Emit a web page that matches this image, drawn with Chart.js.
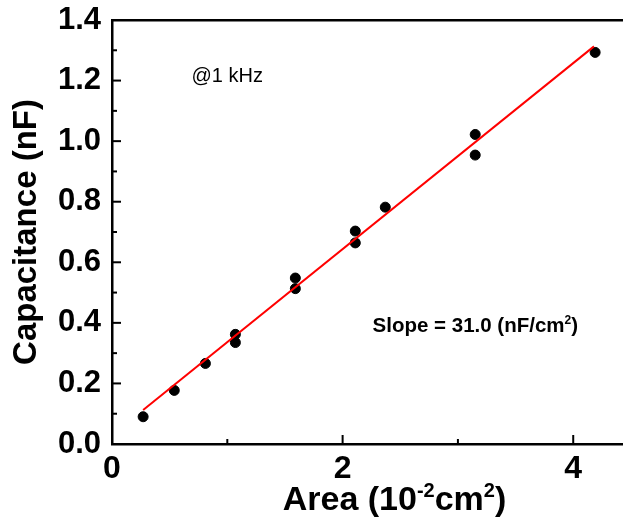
<!DOCTYPE html>
<html>
<head>
<meta charset="utf-8">
<script src="https://cdn.jsdelivr.net/npm/chart.js@4/dist/chart.umd.min.js"></script>
<style>
  html, body { margin: 0; padding: 0; background: #fff; overflow: hidden; }
  #wrap { width: 700px; height: 527px; }
</style>
</head>
<body>
<div id="wrap"><canvas id="cap-chart" width="700" height="527"></canvas></div>
<script>
// measured points: area (10^-2 cm^2) vs capacitance (nF) at 1 kHz
const areaVals = [0.27, 0.54, 0.81, 1.07, 1.07, 1.59, 1.59, 2.11, 2.11, 2.37, 3.15, 3.15, 4.19];
const capVals  = [0.090, 0.177, 0.266, 0.362, 0.335, 0.548, 0.513, 0.703, 0.664, 0.782, 1.022, 0.954, 1.293];

// linear fit, end points
const fitX = [0.27, 4.18];
const fitY = [0.112, 1.313];

// axis ticks
const xMajor = [0, 2, 4];
const xMinor = [1, 3];
const yMajor = [0, 0.2, 0.4, 0.6, 0.8, 1.0, 1.2, 1.4];
const yMinor = [0.1, 0.3, 0.5, 0.7, 0.9, 1.1, 1.3];

const FONT = '"Liberation Sans", Arial, Helvetica, sans-serif';

// draws text pieces in a row; pieces marked sup are smaller and raised
function drawRich(ctx, parts, x, y, size, align) {
  const big = 'bold ' + size + 'px ' + FONT;
  const small = 'bold ' + Math.round(size * 0.6) + 'px ' + FONT;
  let w = 0;
  parts.forEach(p => { ctx.font = p.sup ? small : big; w += ctx.measureText(p.t).width; });
  let cx = align === 'center' ? x - w / 2 : x;
  parts.forEach(p => {
    ctx.font = p.sup ? small : big;
    ctx.fillText(p.t, cx, p.sup ? y - size * 0.38 : y);
    cx += ctx.measureText(p.t).width;
  });
}

// ticks pointing into the plot, x title and the two text notes
const innerTicks = {
  id: 'innerTicks',
  afterDraw(chart) {
    const { ctx, chartArea: a, scales: { x, y } } = chart;
    ctx.save();
    ctx.strokeStyle = '#000';
    ctx.lineWidth = 2;
    const tick = (x1, y1, x2, y2) => { ctx.beginPath(); ctx.moveTo(x1, y1); ctx.lineTo(x2, y2); ctx.stroke(); };
    xMajor.forEach(v => { const p = x.getPixelForValue(v); tick(p, a.bottom, p, a.bottom - 9); });
    xMinor.forEach(v => { const p = x.getPixelForValue(v); tick(p, a.bottom, p, a.bottom - 5); });
    yMajor.forEach(v => { const p = y.getPixelForValue(v); tick(a.left, p, a.left + 9, p); });
    yMinor.forEach(v => { const p = y.getPixelForValue(v); tick(a.left, p, a.left + 5, p); });

    ctx.fillStyle = '#000';
    ctx.textAlign = 'left';
    ctx.textBaseline = 'middle';
    ctx.font = '20px ' + FONT;
    ctx.fillText('@1 kHz', x.getPixelForValue(0.69), y.getPixelForValue(1.215));

    ctx.textBaseline = 'alphabetic';
    drawRich(ctx, [{ t: 'Slope = 31.0 (nF/cm' }, { t: '2', sup: true }, { t: ')' }],
      x.getPixelForValue(2.26), y.getPixelForValue(0.396) + 7.5, 20.5, 'left');

    // x axis title
    drawRich(ctx, [{ t: 'Area (10' }, { t: '-2', sup: true }, { t: 'cm' }, { t: '2', sup: true }, { t: ')' }],
      (a.left + a.right) / 2, 510, 34, 'center');
    ctx.restore();
  }
};

new Chart(document.getElementById('cap-chart'), {
  data: {
    datasets: [
      {
        type: 'line',
        label: 'fit',
        data: fitX.map((v, i) => ({ x: v, y: fitY[i] })),
        borderColor: '#ff0000',
        borderWidth: 2,
        pointRadius: 0,
        fill: false
      },
      {
        type: 'scatter',
        label: 'data',
        data: areaVals.map((v, i) => ({ x: v, y: capVals[i] })),
        backgroundColor: '#000',
        borderColor: '#000',
        pointRadius: 5,
        pointHoverRadius: 5
      }
    ]
  },
  plugins: [innerTicks],
  options: {
    responsive: false,
    animation: false,
    devicePixelRatio: 1,
    layout: { padding: { top: 20, right: 23, left: 0, bottom: 0 } },
    plugins: { legend: { display: false }, tooltip: { enabled: false } },
    scales: {
      x: {
        type: 'linear',
        position: 'bottom',
        min: 0,
        max: 4.9,
        afterBuildTicks: s => { s.ticks = xMajor.map(v => ({ value: v })); },
        afterFit: s => { s.height = 83; s.paddingLeft = 0; s.paddingRight = 0; },
        grid: { display: false, drawTicks: false },
        border: { display: true, color: '#000', width: 2.5 },
        ticks: {
          padding: 6,
          color: '#000',
          font: { family: FONT, size: 32, weight: 'bold' },
          callback: v => String(v)
        }
      },
      xTop: {
        type: 'linear',
        position: 'top',
        min: 0,
        max: 4.9,
        afterFit: s => { s.height = 0; s.paddingLeft = 0; s.paddingRight = 0; },
        grid: { display: false, drawTicks: false },
        border: { display: true, color: '#000', width: 2.5 },
        ticks: { display: false }
      },
      y: {
        type: 'linear',
        position: 'left',
        min: 0,
        max: 1.4,
        afterBuildTicks: s => { s.ticks = yMajor.map(v => ({ value: v })); },
        afterFit: s => { s.width = 112; s.paddingTop = 0; s.paddingBottom = 0; },
        grid: { display: false, drawTicks: false },
        border: { display: true, color: '#000', width: 2.5 },
        ticks: {
          padding: 11,
          color: '#000',
          font: { family: FONT, size: 31, weight: 'bold' },
          callback: v => Number(v).toFixed(1)
        },
        title: {
          display: true,
          text: 'Capacitance (nF)',
          color: '#000',
          font: { family: FONT, size: 33, weight: 'bold' },
          padding: { top: 7, bottom: 0 }
        }
      }
    }
  }
});
</script>
</body>
</html>
